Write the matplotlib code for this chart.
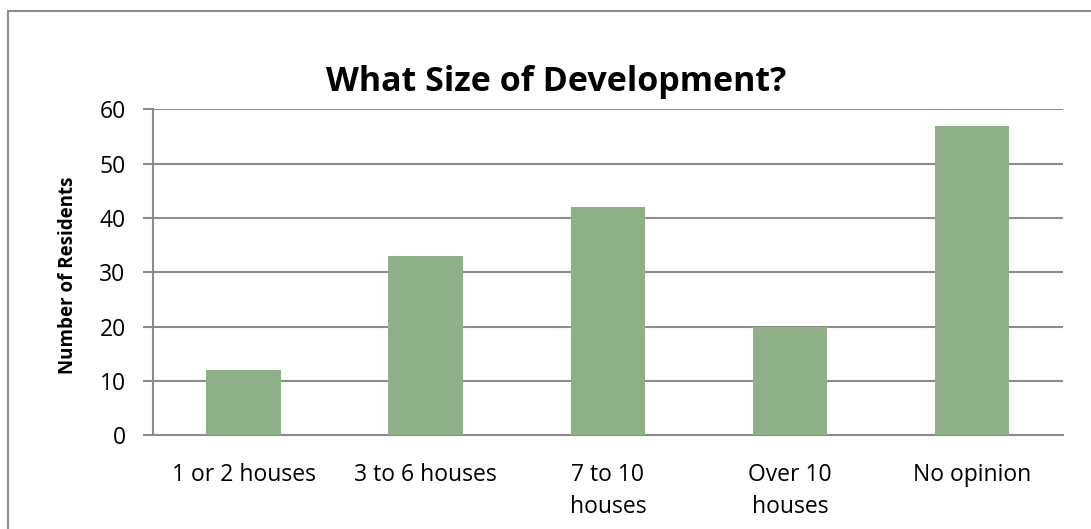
import matplotlib.pyplot as plt
from matplotlib.patches import Rectangle

categories = ['1 or 2 houses', '3 to 6 houses', '7 to 10\nhouses', 'Over 10\nhouses', 'No opinion']
residents = [12, 33, 42, 20, 57]
y_ticks = [0, 10, 20, 30, 40, 50, 60]

bar_color = '#8FAF89'
grid_color = '#8C8C8C'

plt.rcParams['font.family'] = ['Open Sans', 'DejaVu Sans']

fig = plt.figure(figsize=(10.91, 5.29), dpi=100)
ax = fig.add_axes([0.140, 0.177, 0.8343, 0.6163])

x = list(range(len(categories)))
ax.bar(x, residents, width=0.41, color=bar_color, zorder=3)

ax.set_xlim(-0.5, len(categories) - 0.5)
ax.set_ylim(0, 60)
ax.set_yticks(y_ticks)
ax.set_xticks(x)
ax.set_xticklabels(categories, fontsize=16.5, linespacing=1.45)

ax.yaxis.grid(True, color=grid_color, lw=1.5, zorder=0)
ax.set_axisbelow(True)
for side in ['top', 'right']:
    ax.spines[side].set_visible(False)
for side in ['left', 'bottom']:
    ax.spines[side].set_color(grid_color)
    ax.spines[side].set_linewidth(1.5)

ax.tick_params(axis='y', length=7.5, width=1.5, color=grid_color, pad=12, labelsize=16.5)
ax.tick_params(axis='x', length=0, pad=20)

ax.set_ylabel('Number of Residents', fontsize=13.5, fontweight='bold')
ax.yaxis.set_label_coords(-0.082, 0.49)

fig.text(0.51, 0.845, 'What Size of Development?', ha='center', va='center',
         fontsize=24.5, fontweight='bold')

# outer chart border (runs off the right and bottom edges)
fig.patches.append(Rectangle((8 / 1091, -0.05), 1.1, 1 - 11 / 529 + 0.05,
                             transform=fig.transFigure, fill=False,
                             edgecolor=grid_color, lw=1.5))

fig.savefig('out.png', dpi=100)
